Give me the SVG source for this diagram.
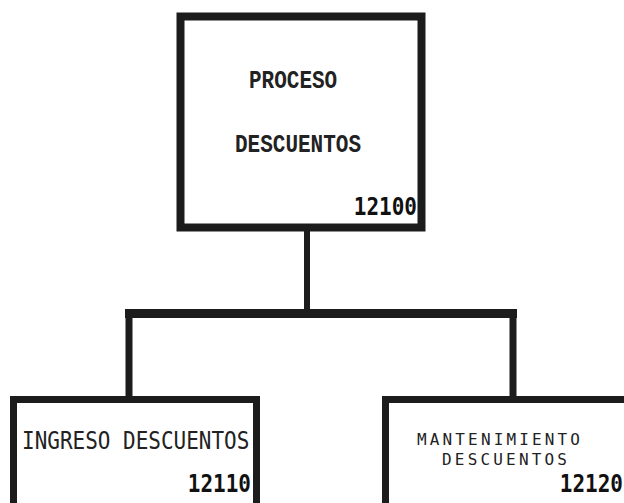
<svg xmlns="http://www.w3.org/2000/svg" width="624" height="503" viewBox="0 0 624 503">
<style>
.box{fill:#fff;stroke:#1c1c1c;stroke-width:7}
.con{stroke:#1c1c1c;fill:none}
.t1{font-family:"Liberation Mono","DejaVu Sans Mono",monospace;font-weight:bold;font-size:21px;fill:#222}
.t2{font-family:"DejaVu Sans Mono","Liberation Mono",monospace;font-size:21px;fill:#222}
.t3{font-family:"DejaVu Sans Mono","Liberation Mono",monospace;font-size:16px;fill:#222}
.num{font-family:"DejaVu Sans Mono","Liberation Mono",monospace;font-weight:bold;font-size:21px;fill:#111;text-anchor:end}
</style>
<rect width="624" height="503" fill="#fff"/>
<g id="connectors">
<line class="con" x1="307" y1="230" x2="307" y2="316" stroke-width="6"/>
<line class="con" x1="125" y1="313.5" x2="517" y2="313.5" stroke-width="9"/>
<line class="con" x1="129" y1="313" x2="129" y2="398" stroke-width="7"/>
<line class="con" x1="513" y1="313" x2="513" y2="398" stroke-width="7"/>
</g>
<g id="n12100">
<rect class="box" x="180.5" y="16.5" width="241" height="211" style="stroke-width:8"/>
<text class="t1" x="249" y="88" transform="translate(0,-17.6) scale(1,1.2)">PROCESO</text>
<text class="t1" x="235" y="152" transform="translate(0,-30.4) scale(1,1.2)">DESCUENTOS</text>
<text class="num" x="417" y="215" transform="translate(0,-43) scale(1,1.2)">12100</text>
</g>
<g id="n12110">
<rect class="box" x="13.5" y="399.5" width="243" height="120"/>
<text class="t2" x="22" y="449" transform="translate(0,-67.35) scale(1,1.15)">INGRESO DESCUENTOS</text>
<text class="num" x="251" y="492" transform="translate(0,-73.8) scale(1,1.15)">12110</text>
</g>
<g id="n12120">
<rect class="box" x="385.5" y="399.5" width="250" height="120"/>
<text class="t3" x="417" y="445" textLength="163" lengthAdjust="spacing">MANTENIMIENTO</text>
<text class="t3" x="442" y="465" textLength="125" lengthAdjust="spacing">DESCUENTOS</text>
<text class="num" x="623" y="492" transform="translate(0,-73.8) scale(1,1.15)">12120</text>
</g>
</svg>
